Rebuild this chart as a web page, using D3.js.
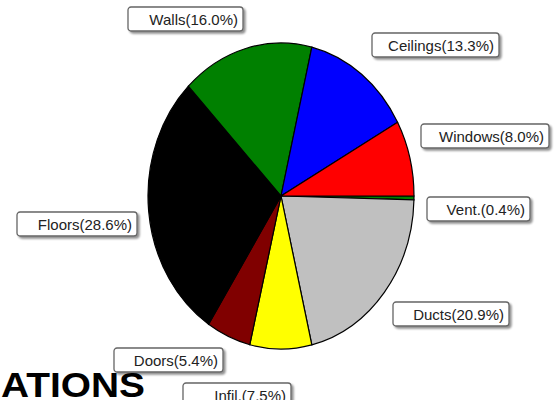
<!DOCTYPE html>
<html>
<head>
<meta charset="utf-8">
<script src="https://cdn.jsdelivr.net/npm/d3@7/dist/d3.min.js"></script>
<style>
  html, body { margin: 0; padding: 0; background: #fff; }
  svg { display: block; }
</style>
</head>
<body>
<svg id="chart" width="555" height="400"></svg>
<script>
// Data (clockwise from 3 o'clock)
const categories = ["Vent.", "Ducts", "Infil.", "Doors", "Floors", "Walls", "Ceilings", "Windows"];
const shares = [0.4, 20.9, 7.5, 5.4, 28.6, 16.0, 13.3, 8.0];
const sliceColors = ["#008000", "#c0c0c0", "#ffff00", "#800000", "#000000", "#008000", "#0000ff", "#ff0000"];
const titleText = "ATIONS";

// Layout of label boxes (left, top, width) – layout only
const labelLayout = {
  "Vent.":    [427, 197, 103],
  "Ducts":    [393, 302, 116],
  "Infil.":   [183, 383, 108],
  "Doors":    [114, 348, 109],
  "Floors":   [17, 212, 120],
  "Walls":    [128, 7, 115],
  "Ceilings": [372, 33, 127],
  "Windows":  [421, 124, 128]
};

const svg = d3.select("#chart");
const cx = 281, cy = 196, rx = 133, ry = 153;

const pie = d3.pie().sort(null).value(d => d.v)
  .startAngle(Math.PI / 2).endAngle(Math.PI / 2 + 2 * Math.PI);
const arc = d3.arc().innerRadius(0).outerRadius(rx);
const data = categories.map((c, i) => ({ c, v: shares[i], col: sliceColors[i] }));

const g = svg.append("g").attr("transform", `translate(${cx},${cy}) scale(1,${ry / rx})`);
g.selectAll("path").data(pie(data)).join("path")
  .attr("d", arc)
  .attr("fill", d => d.data.col)
  .attr("stroke", "#000")
  .attr("stroke-width", 1.2)
  .attr("vector-effect", "non-scaling-stroke");

// Labels
const defs = svg.append("defs");
const f = defs.append("filter").attr("id", "sh").attr("x", "-10%").attr("y", "-20%").attr("width", "130%").attr("height", "160%");
f.append("feGaussianBlur").attr("in", "SourceAlpha").attr("stdDeviation", 1.2).attr("result", "b");
f.append("feOffset").attr("in", "b").attr("dx", 2).attr("dy", 2).attr("result", "o");
f.append("feComponentTransfer").attr("in", "o").attr("result", "o2")
  .append("feFuncA").attr("type", "linear").attr("slope", 0.45);
const m = f.append("feMerge");
m.append("feMergeNode").attr("in", "o2");
m.append("feMergeNode").attr("in", "SourceGraphic");

const lab = svg.append("g").selectAll("g").data(data).join("g")
  .attr("transform", d => `translate(${labelLayout[d.c][0]},${labelLayout[d.c][1]})`);
lab.append("rect")
  .attr("width", d => labelLayout[d.c][2])
  .attr("height", 24)
  .attr("rx", 3)
  .attr("fill", "#fff")
  .attr("stroke", "#666")
  .attr("stroke-width", 1.3)
  .attr("filter", "url(#sh)");
lab.append("text")
  .attr("x", d => labelLayout[d.c][2] - 5)
  .attr("y", 17.5)
  .attr("text-anchor", "end")
  .attr("font-family", "'Liberation Sans', Arial, sans-serif")
  .attr("font-size", 15)
  .attr("fill", "#222")
  .text(d => `${d.c}(${d.v.toFixed(1)}%)`);

// Title fragment
svg.append("text")
  .attr("x", 1)
  .attr("y", 397)
  .attr("font-family", "'Liberation Sans', Arial, sans-serif")
  .attr("font-weight", "bold")
  .attr("font-size", 35)
  .attr("textLength", 144)
  .attr("lengthAdjust", "spacingAndGlyphs")
  .attr("fill", "#000")
  .text(titleText);
</script>
</body>
</html>
